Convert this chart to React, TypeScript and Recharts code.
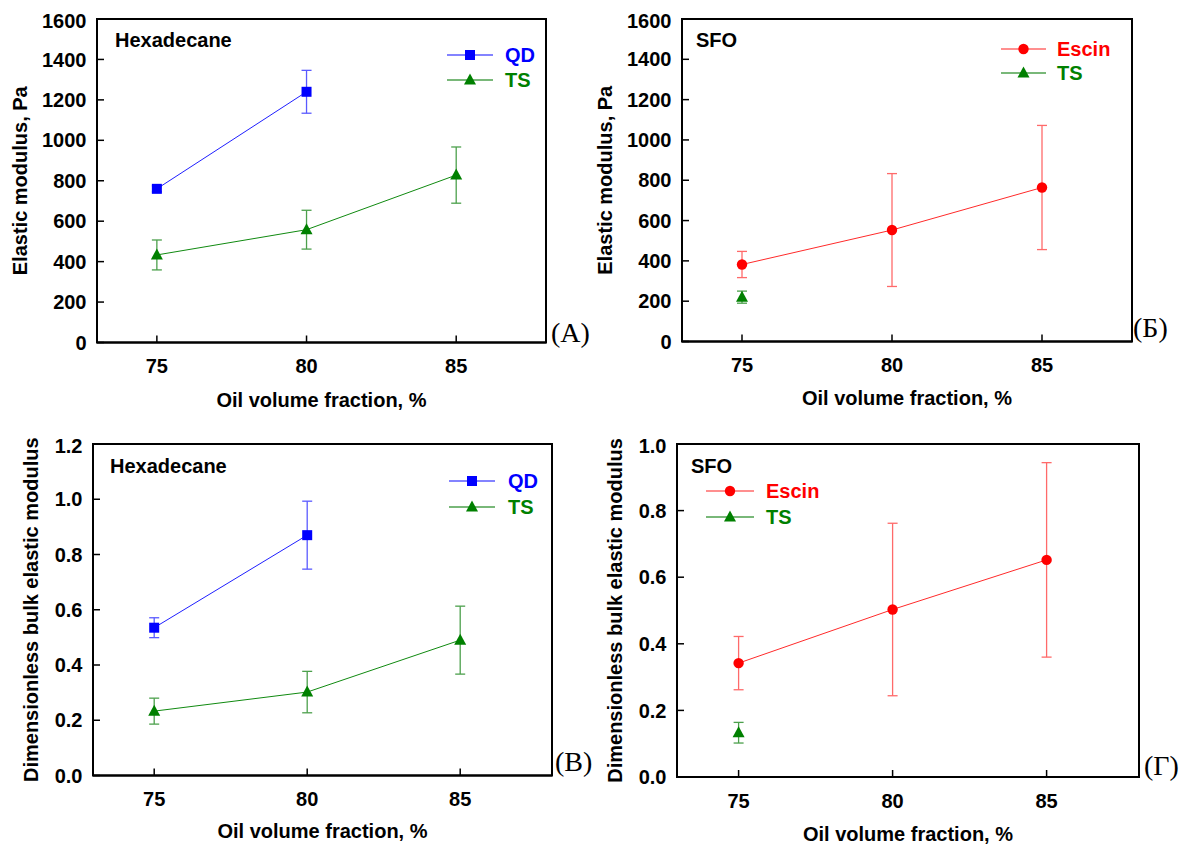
import React from "react";
import { ScatterChart, Scatter, XAxis, YAxis, ErrorBar, ReferenceArea } from "recharts";

// oil volume fraction, %
const oilFractions = [75, 80, 85];
const xTicks = [75, 80, 85];
const modulusTicks = [0, 200, 400, 600, 800, 1000, 1200, 1400, 1600];
const bulkTicksHex = [0, 0.2, 0.4, 0.6, 0.8, 1.0, 1.2];
const bulkTicksSfo = [0, 0.2, 0.4, 0.6, 0.8, 1.0];

// elastic modulus, Pa
const hexQdModulus = [760, 1240];
const hexQdModulusErr = [15, 106];
const hexTsModulus = [433, 558, 828];
const hexTsModulusErr = [74, 96, 139];
const sfoEscinModulus = [382, 553, 764];
const sfoEscinModulusErr = [65, 280, 308];
const sfoTsModulus = [220];
const sfoTsModulusErr = [30];

// dimensionless bulk elastic modulus
const hexQdBulk = [0.535, 0.87];
const hexQdBulkErr = [0.036, 0.123];
const hexTsBulk = [0.233, 0.302, 0.49];
const hexTsBulkErr = [0.047, 0.075, 0.123];
const sfoEscinBulk = [0.342, 0.503, 0.652];
const sfoEscinBulkErr = [0.08, 0.259, 0.292];
const sfoTsBulk = [0.133];
const sfoTsBulkErr = [0.031];

const FONT = '"Liberation Sans", Arial, sans-serif';
const BLUE = "#0000ff";
const GREEN = "#008000";
const RED = "#ff0000";

const YW = 90;
const TOPM = 10;
const RIGHTM = 10;
const XH = 60;

type Marker = "square" | "triangle" | "circle";
type Pt = { x: number; y: number; err: number };
type Series = { name: string; color: string; lineColor: string; barColor: string; marker: Marker; data: Pt[] };

const toPoints = (ys: number[], errs: number[]): Pt[] =>
  ys.map((y, i) => ({ x: oilFractions[i], y, err: errs[i] }));

const qd = (ys: number[], errs: number[]): Series => ({
  name: "QD", color: BLUE, lineColor: "#1f1fff", barColor: "#5a5aff", marker: "square", data: toPoints(ys, errs),
});
const ts = (ys: number[], errs: number[]): Series => ({
  name: "TS", color: GREEN, lineColor: "#108a10", barColor: "#4ca04c", marker: "triangle", data: toPoints(ys, errs),
});
const escin = (ys: number[], errs: number[]): Series => ({
  name: "Escin", color: RED, lineColor: "#ff2a2a", barColor: "#ff6a6a", marker: "circle", data: toPoints(ys, errs),
});

const drawMarker = (marker: Marker, color: string, cx: number, cy: number, key?: string) => {
  if (marker === "square")
    return <rect key={key} x={cx - 5} y={cy - 5} width={10} height={10} fill={color} />;
  if (marker === "triangle")
    return <polygon key={key} points={`${cx},${cy - 6.5} ${cx - 6},${cy + 4.5} ${cx + 6},${cy + 4.5}`} fill={color} />;
  return <circle key={key} cx={cx} cy={cy} r={5.2} fill={color} />;
};

const tickStyle = { fill: "#000", fontSize: 20, fontWeight: 700, fontFamily: FONT };

interface PanelProps {
  plot: { x: number; y: number; w: number; h: number };
  yMax: number;
  yTicks: number[];
  digits: number;
  series: Series[];
}

const Panel: React.FC<PanelProps> = ({ plot, yMax, yTicks, digits, series }) => (
  <div style={{ position: "absolute", left: plot.x - YW, top: plot.y - TOPM }}>
    <ScatterChart
      width={YW + plot.w + RIGHTM}
      height={TOPM + plot.h + XH}
      margin={{ top: TOPM, right: RIGHTM, bottom: 0, left: 0 }}
    >
      <XAxis
        type="number"
        dataKey="x"
        domain={[73, 88]}
        ticks={xTicks}
        height={XH}
        tickSize={-7}
        tickMargin={23.5}
        tick={tickStyle}
        axisLine={{ stroke: "#000", strokeWidth: 2 }}
        tickLine={{ stroke: "#000", strokeWidth: 1.5 }}
      />
      <YAxis
        type="number"
        dataKey="y"
        domain={[0, yMax]}
        ticks={yTicks}
        width={YW}
        tickSize={-7}
        tickMargin={17.5}
        tick={tickStyle}
        tickFormatter={(v: number) => v.toFixed(digits)}
        axisLine={{ stroke: "#000", strokeWidth: 2 }}
        tickLine={{ stroke: "#000", strokeWidth: 1.5 }}
      />
      <ReferenceArea x1={73} x2={88} y1={0} y2={yMax} fill="none" stroke="#000" strokeWidth={2} />
      {series.map((s) => (
        <Scatter
          key={s.name}
          name={s.name}
          data={s.data}
          line={{ stroke: s.lineColor, strokeWidth: 1 }}
          lineType="joint"
          isAnimationActive={false}
          shape={(p: any) => drawMarker(s.marker, s.color, p.cx, p.cy)}
        >
          <ErrorBar dataKey="err" direction="y" width={5} stroke={s.barColor} strokeWidth={1.3} />
        </Scatter>
      ))}
    </ScatterChart>
  </div>
);

const LegendRow: React.FC<{ s: Series; x1: number; x2: number; tx: number; y: number }> = ({ s, x1, x2, tx, y }) => (
  <g>
    <line x1={x1} x2={x2} y1={y} y2={y} stroke={s.barColor} strokeWidth={1.3} />
    {drawMarker(s.marker, s.color, (x1 + x2) / 2, y)}
    <text x={tx} y={y + 7} fill={s.color} fontSize={20} fontWeight={700} fontFamily={FONT}>
      {s.name}
    </text>
  </g>
);

const titleProps = { fill: "#000", fontSize: 20, fontWeight: 700, fontFamily: FONT };
const tagProps = { fill: "#000", fontSize: 28, fontFamily: '"Liberation Serif", "Times New Roman", serif' };

export default function App() {
  const pA = { x: 97, y: 19, w: 449, h: 323.5 };
  const pB1 = { x: 682, y: 19, w: 450, h: 322.5 };
  const pC = { x: 93, y: 444, w: 459, h: 331.5 };
  const pD = { x: 677, y: 444, w: 462, h: 333 };

  const sA = [qd(hexQdModulus, hexQdModulusErr), ts(hexTsModulus, hexTsModulusErr)];
  const sB = [escin(sfoEscinModulus, sfoEscinModulusErr), ts(sfoTsModulus, sfoTsModulusErr)];
  const sC = [qd(hexQdBulk, hexQdBulkErr), ts(hexTsBulk, hexTsBulkErr)];
  const sD = [escin(sfoEscinBulk, sfoEscinBulkErr), ts(sfoTsBulk, sfoTsBulkErr)];

  return (
    <div style={{ position: "absolute", left: 0, top: 0, width: 1183, height: 847, background: "#fff" }}>
      <Panel plot={pA} yMax={1600} yTicks={modulusTicks} digits={0} series={sA} />
      <Panel plot={pB1} yMax={1600} yTicks={modulusTicks} digits={0} series={sB} />
      <Panel plot={pC} yMax={1.2} yTicks={bulkTicksHex} digits={1} series={sC} />
      <Panel plot={pD} yMax={1.0} yTicks={bulkTicksSfo} digits={1} series={sD} />

      <svg width={1183} height={847} style={{ position: "absolute", left: 0, top: 0, pointerEvents: "none" }}>
        {/* axis titles */}
        <text transform="translate(27,180.75) rotate(-90)" textAnchor="middle" {...titleProps}>Elastic modulus, Pa</text>
        <text transform="translate(612,180.25) rotate(-90)" textAnchor="middle" {...titleProps}>Elastic modulus, Pa</text>
        <text transform="translate(37.5,609.75) rotate(-90)" textAnchor="middle" {...titleProps}>Dimensionless bulk elastic modulus</text>
        <text transform="translate(622,610.5) rotate(-90)" textAnchor="middle" {...titleProps}>Dimensionless bulk elastic modulus</text>
        <text x={pA.x + pA.w / 2} y={407} textAnchor="middle" {...titleProps}>Oil volume fraction, %</text>
        <text x={pB1.x + pB1.w / 2} y={405} textAnchor="middle" {...titleProps}>Oil volume fraction, %</text>
        <text x={pC.x + pC.w / 2} y={838} textAnchor="middle" {...titleProps}>Oil volume fraction, %</text>
        <text x={pD.x + pD.w / 2} y={841} textAnchor="middle" {...titleProps}>Oil volume fraction, %</text>

        {/* oil names */}
        <text x={115} y={47} {...titleProps}>Hexadecane</text>
        <text x={696} y={47} {...titleProps}>SFO</text>
        <text x={110} y={473} {...titleProps}>Hexadecane</text>
        <text x={691} y={473} {...titleProps}>SFO</text>

        {/* legends */}
        <LegendRow s={sA[0]} x1={447} x2={493} tx={505} y={55} />
        <LegendRow s={sA[1]} x1={447} x2={493} tx={505} y={80} />
        <LegendRow s={sB[0]} x1={1001} x2={1046} tx={1057} y={49} />
        <LegendRow s={sB[1]} x1={1001} x2={1046} tx={1057} y={73} />
        <LegendRow s={sC[0]} x1={449} x2={495} tx={508} y={481} />
        <LegendRow s={sC[1]} x1={449} x2={495} tx={508} y={507} />
        <LegendRow s={sD[0]} x1={706} x2={754} tx={766} y={491} />
        <LegendRow s={sD[1]} x1={706} x2={754} tx={766} y={517} />

        {/* panel tags */}
        <text x={551} y={342} {...tagProps}>(A)</text>
        <text x={1133} y={337} {...tagProps}>(Б)</text>
        <text x={555} y={771} {...tagProps}>(B)</text>
        <text x={1144} y={775} {...tagProps}>(Г)</text>
      </svg>
    </div>
  );
}
